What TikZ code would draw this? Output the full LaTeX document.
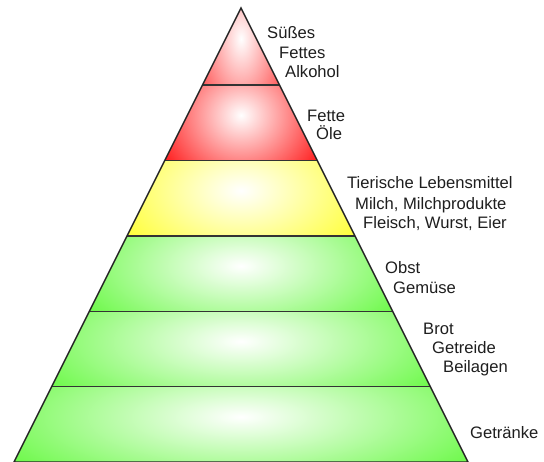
\documentclass[tikz,border=0pt]{standalone}
\usepackage{fontspec}
\setmainfont{Liberation Sans}
\definecolor{redA}{RGB}{255,70,70}
\definecolor{redB}{RGB}{255,0,0}
\definecolor{yelC}{RGB}{255,255,30}
\definecolor{grnD}{RGB}{90,248,50}
\definecolor{txt}{RGB}{30,30,30}
\tikzset{
  divider/.style={draw=black!80, line width=1.4pt},
  outline/.style={draw=black!85, line width=1.4pt, line join=miter},
  lbl/.style={inner sep=0pt, anchor=base west, text=txt, font=\fontsize{16.6}{20}\selectfont}
}
\begin{document}
\begin{tikzpicture}[x=1pt, y=-1pt]
\useasboundingbox (0,0) rectangle (544,461);
\clip (0,0) rectangle (544,461);
% bands
\foreach \yt/\yb/\col in {8/85/redA, 85/160.4/redB, 160.4/235.8/yelC, 235.8/311.2/grnD, 311.2/386.6/grnD, 386.6/462/grnD} {
  \pgfmathsetmacro\mywt{(\yt-8)/2}
  \pgfmathsetmacro\mywb{(\yb-8)/2}
  \pgfmathsetmacro\mycy{\yt+0.4*(\yb-\yt)}
  \pgfmathsetmacro\myrx{1.35*\mywb}
  \pgfmathsetmacro\myry{1.25*(\yb-\yt)}
  \begin{scope}
    \clip (241-\mywt,\yt) -- (241+\mywt,\yt) -- (241+\mywb,\yb) -- (241-\mywb,\yb) -- cycle;
    \fill[\col] (0,\yt) rectangle (544,\yb);
    \shade[inner color=white, outer color=\col] (241,\mycy) ellipse [x radius=\myrx, y radius=\myry];
  \end{scope}
}
% dividers
\foreach \y [count=\i] in {85,160.4,235.8,311.2,386.6} {
  \pgfmathsetmacro\myhw{(\y-8)/2}
  \coordinate (L\i) at (241-\myhw,\y);
  \coordinate (R\i) at (241+\myhw,\y);
  \draw[divider] (L\i) -- (R\i);
}
% outline
\coordinate (apex) at (241,8);
\coordinate (bl) at (14,462);
\coordinate (br) at (468,462);
\draw[outline] (bl) -- (apex) -- (br) -- cycle;
% labels
\node[lbl] (t1) at (267,38) {Süßes};
\node[lbl] (t2) at (279,58) {Fettes};
\node[lbl] (t3) at (285,77) {Alkohol};
\node[lbl] (t4) at (307,121) {Fette};
\node[lbl] (t5) at (316,139) {Öle};
\node[lbl] (t6) at (347,188) {Tierische Lebensmittel};
\node[lbl] (t7) at (355,209) {Milch, Milchprodukte};
\node[lbl] (t8) at (363,228) {Fleisch, Wurst, Eier};
\node[lbl] (t9) at (385,273) {Obst};
\node[lbl] (t10) at (393,293) {Gemüse};
\node[lbl] (t11) at (423,334) {Brot};
\node[lbl] (t12) at (432,353) {Getreide};
\node[lbl] (t13) at (443,372) {Beilagen};
\node[lbl] (t14) at (470,438) {Getränke};
\end{tikzpicture}
\end{document}
